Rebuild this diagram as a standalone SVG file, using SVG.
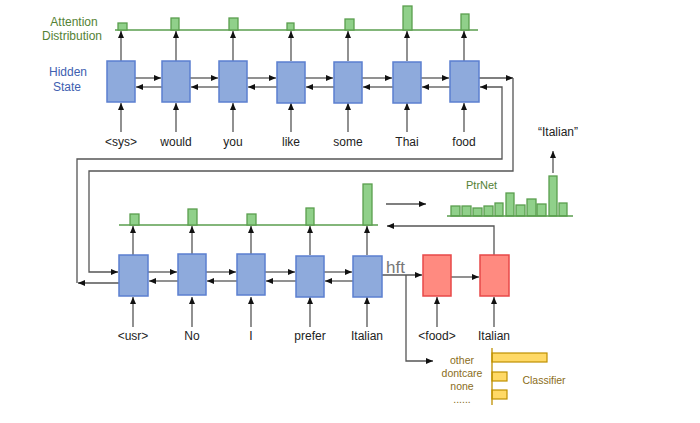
<svg xmlns="http://www.w3.org/2000/svg" width="700" height="423" viewBox="0 0 700 423">
<style>
.hb{fill:#8eaadc;stroke:#5b7fd0;stroke-width:1.5}
.rb{fill:#ff8a80;stroke:#e84848;stroke-width:1.5}
.gb{fill:#90d08a;stroke:#5a9e4e;stroke-width:1.3}
.yb{fill:#ffd966;stroke:#bf9000;stroke-width:1.2}
.ln{stroke:#555;stroke-width:1.3;fill:none}
.ar{stroke:#555;stroke-width:1.3;fill:none;marker-end:url(#ah)}
.gl{stroke:#5a9e4e;stroke-width:1.3}
.t{font-family:"Liberation Sans",Arial,sans-serif;font-size:12px;fill:#222;text-anchor:middle}
.lg{font-family:"Liberation Sans",Arial,sans-serif;font-size:12px;fill:#548235;text-anchor:middle}
.lb{font-family:"Liberation Sans",Arial,sans-serif;font-size:12px;fill:#4060b0;text-anchor:middle}
.ly{font-family:"Liberation Sans",Arial,sans-serif;font-size:10.5px;fill:#8a6d1a;text-anchor:middle}
</style>
<defs>
<marker id="ah" markerWidth="8" markerHeight="8" refX="7" refY="4" orient="auto" markerUnits="userSpaceOnUse">
<path d="M0,1 L7,4 L0,7 Z" fill="#111"/>
</marker>
</defs>
<rect width="700" height="423" fill="#fff"/>

<g id="labels-left">
<text class="lg" x="74" y="26">Attention</text>
<text class="lg" x="72" y="40">Distribution</text>
<text class="lb" x="68" y="76">Hidden</text>
<text class="lb" x="67" y="91">State</text>
</g>

<g id="attention-top">
<line class="gl" x1="115" y1="30" x2="478" y2="30"/>
<rect class="gb" x="118" y="23" width="9" height="7"/>
<rect class="gb" x="171" y="18" width="8" height="12"/>
<rect class="gb" x="229" y="18" width="9" height="12"/>
<rect class="gb" x="287" y="23" width="7" height="7"/>
<rect class="gb" x="345" y="19" width="9" height="11"/>
<rect class="gb" x="403" y="6" width="9" height="24"/>
<rect class="gb" x="461" y="14" width="8" height="16"/>
</g>

<g id="connectors">
<!-- top row: box to attention -->
<line class="ar" x1="121" y1="61" x2="121" y2="31"/>
<line class="ar" x1="176" y1="61" x2="176" y2="31"/>
<line class="ar" x1="233" y1="61" x2="233" y2="31"/>
<line class="ar" x1="291" y1="61" x2="291" y2="31"/>
<line class="ar" x1="348" y1="61" x2="348" y2="31"/>
<line class="ar" x1="407" y1="61" x2="407" y2="31"/>
<line class="ar" x1="464" y1="61" x2="464" y2="31"/>
<!-- top row: input arrows -->
<line class="ar" x1="121" y1="132" x2="121" y2="103"/>
<line class="ar" x1="176" y1="132" x2="176" y2="103"/>
<line class="ar" x1="233" y1="132" x2="233" y2="103"/>
<line class="ar" x1="291" y1="132" x2="291" y2="103"/>
<line class="ar" x1="348" y1="132" x2="348" y2="103"/>
<line class="ar" x1="407" y1="132" x2="407" y2="103"/>
<line class="ar" x1="464" y1="132" x2="464" y2="103"/>
<!-- top row forward -->
<line class="ar" x1="135" y1="78" x2="161" y2="78"/>
<line class="ar" x1="190" y1="78" x2="218" y2="78"/>
<line class="ar" x1="247" y1="78" x2="276" y2="78"/>
<line class="ar" x1="305" y1="78" x2="333" y2="78"/>
<line class="ar" x1="362" y1="78" x2="392" y2="78"/>
<line class="ar" x1="421" y1="78" x2="449" y2="78"/>
<line class="ar" x1="479" y1="78" x2="513" y2="78"/>
<!-- top row backward -->
<line class="ar" x1="162" y1="87" x2="136" y2="87"/>
<line class="ar" x1="219" y1="87" x2="191" y2="87"/>
<line class="ar" x1="277" y1="87" x2="248" y2="87"/>
<line class="ar" x1="334" y1="87" x2="306" y2="87"/>
<line class="ar" x1="393" y1="87" x2="363" y2="87"/>
<line class="ar" x1="450" y1="87" x2="422" y2="87"/>
<!-- outer forward loop -->
<polyline class="ar" points="513,78 513,171 89,171 89,272 118,272"/>
<!-- inner backward loop -->
<polyline class="ar" points="77,283 77,159 502,159 502,87 480,87"/>
<line class="ar" x1="119" y1="283" x2="78" y2="283"/>

<!-- bottom: box to attention -->
<line class="ar" x1="133" y1="255" x2="133" y2="226"/>
<line class="ar" x1="192" y1="255" x2="192" y2="226"/>
<line class="ar" x1="251" y1="255" x2="251" y2="226"/>
<line class="ar" x1="310" y1="255" x2="310" y2="226"/>
<line class="ar" x1="367" y1="255" x2="367" y2="226"/>
<!-- bottom: inputs -->
<line class="ar" x1="133" y1="327" x2="133" y2="297"/>
<line class="ar" x1="192" y1="327" x2="192" y2="297"/>
<line class="ar" x1="251" y1="327" x2="251" y2="297"/>
<line class="ar" x1="310" y1="327" x2="310" y2="297"/>
<line class="ar" x1="367" y1="327" x2="367" y2="297"/>
<line class="ar" x1="437" y1="327" x2="437" y2="297"/>
<line class="ar" x1="494" y1="327" x2="494" y2="297"/>
<!-- bottom forward -->
<line class="ar" x1="148" y1="272" x2="177" y2="272"/>
<line class="ar" x1="206" y1="272" x2="236" y2="272"/>
<line class="ar" x1="265" y1="272" x2="295" y2="272"/>
<line class="ar" x1="324" y1="272" x2="352" y2="272"/>
<!-- bottom backward -->
<line class="ar" x1="178" y1="281" x2="149" y2="281"/>
<line class="ar" x1="237" y1="281" x2="207" y2="281"/>
<line class="ar" x1="296" y1="281" x2="266" y2="281"/>
<line class="ar" x1="353" y1="281" x2="325" y2="281"/>
<!-- hft to decoder -->
<line class="ar" x1="382" y1="275" x2="422" y2="275"/>
<line class="ar" x1="451" y1="277" x2="479" y2="277"/>
<polyline class="ar" points="406,275 406,361 433,361"/>
<!-- decoder output back to attention -->
<polyline class="ar" points="494,255 494,226 387,226"/>
<!-- attention to PtrNet -->
<line class="ar" x1="386" y1="204" x2="426" y2="204"/>
<!-- PtrNet to Italian -->
<line class="ar" x1="553" y1="173" x2="553" y2="151"/>
</g>

<g id="attention-bottom">
<line class="gl" x1="119" y1="225" x2="378" y2="225"/>
<rect class="gb" x="130" y="214" width="9" height="11"/>
<rect class="gb" x="188" y="209" width="9" height="16"/>
<rect class="gb" x="247" y="214" width="9" height="11"/>
<rect class="gb" x="306" y="208" width="8" height="17"/>
<rect class="gb" x="363" y="184" width="9" height="41"/>
</g>

<g id="top-row">
<g id="h-sys"><rect class="hb" x="107" y="61" width="28" height="41"/><text class="t" x="121" y="146">&lt;sys&gt;</text></g>
<g id="h-would"><rect class="hb" x="162" y="61" width="28" height="41"/><text class="t" x="176" y="146">would</text></g>
<g id="h-you"><rect class="hb" x="219" y="61" width="28" height="41"/><text class="t" x="233" y="146">you</text></g>
<g id="h-like"><rect class="hb" x="277" y="62" width="28" height="41"/><text class="t" x="291" y="146">like</text></g>
<g id="h-some"><rect class="hb" x="334" y="62" width="28" height="41"/><text class="t" x="348" y="146">some</text></g>
<g id="h-thai"><rect class="hb" x="393" y="62" width="28" height="41"/><text class="t" x="407" y="146">Thai</text></g>
<g id="h-food"><rect class="hb" x="450" y="61" width="29" height="41"/><text class="t" x="464" y="146">food</text></g>
</g>

<g id="bottom-row">
<g id="h-usr"><rect class="hb" x="119" y="255" width="29" height="41"/><text class="t" x="133" y="340">&lt;usr&gt;</text></g>
<g id="h-no"><rect class="hb" x="178" y="254" width="28" height="41"/><text class="t" x="192" y="340">No</text></g>
<g id="h-i"><rect class="hb" x="237" y="254" width="28" height="41"/><text class="t" x="251" y="340">I</text></g>
<g id="h-prefer"><rect class="hb" x="296" y="256" width="28" height="41"/><text class="t" x="310" y="340">prefer</text></g>
<g id="h-italian"><rect class="hb" x="353" y="256" width="29" height="41"/><text class="t" x="367" y="340">Italian</text></g>
<g id="d-food"><rect class="rb" x="423" y="255" width="28" height="41"/><text class="t" x="437" y="340">&lt;food&gt;</text></g>
<g id="d-italian"><rect class="rb" x="480" y="255" width="29" height="41"/><text class="t" x="494" y="340">Italian</text></g>
</g>

<g id="hft"><text x="386" y="273" font-family="'Liberation Sans',Arial,sans-serif" font-size="17" fill="#777">hft</text></g>

<g id="ptrnet">
<text x="466" y="189" font-family="'Liberation Sans',Arial,sans-serif" font-size="11" fill="#548235">PtrNet</text>
<rect class="gb" x="451" y="206" width="9" height="10"/>
<rect class="gb" x="462" y="206" width="9" height="10"/>
<rect class="gb" x="473" y="208" width="9" height="8"/>
<rect class="gb" x="484" y="206" width="9" height="10"/>
<rect class="gb" x="495" y="203" width="8" height="13"/>
<rect class="gb" x="506" y="193" width="8" height="23"/>
<rect class="gb" x="516" y="205" width="9" height="11"/>
<rect class="gb" x="527" y="199" width="9" height="17"/>
<rect class="gb" x="537" y="204" width="9" height="12"/>
<rect class="gb" x="549" y="176" width="8" height="40"/>
<rect class="gb" x="559" y="203" width="8" height="13"/>
<line class="gl" x1="447" y1="216" x2="573" y2="216"/>
<text class="t" x="558" y="136">“Italian”</text>
</g>

<g id="classifier">
<text class="ly" x="462" y="364">other</text>
<text class="ly" x="462" y="377">dontcare</text>
<text class="ly" x="462" y="390">none</text>
<text class="ly" x="462" y="403">......</text>
<rect class="yb" x="492" y="353" width="55" height="9"/>
<rect class="yb" x="492" y="372" width="15" height="9"/>
<rect class="yb" x="492" y="390" width="15" height="9"/>
<line x1="492" y1="348" x2="492" y2="405" stroke="#bf9000" stroke-width="1.3"/>
<text class="ly" x="544" y="384" font-size="11">Classifier</text>
</g>
</svg>
